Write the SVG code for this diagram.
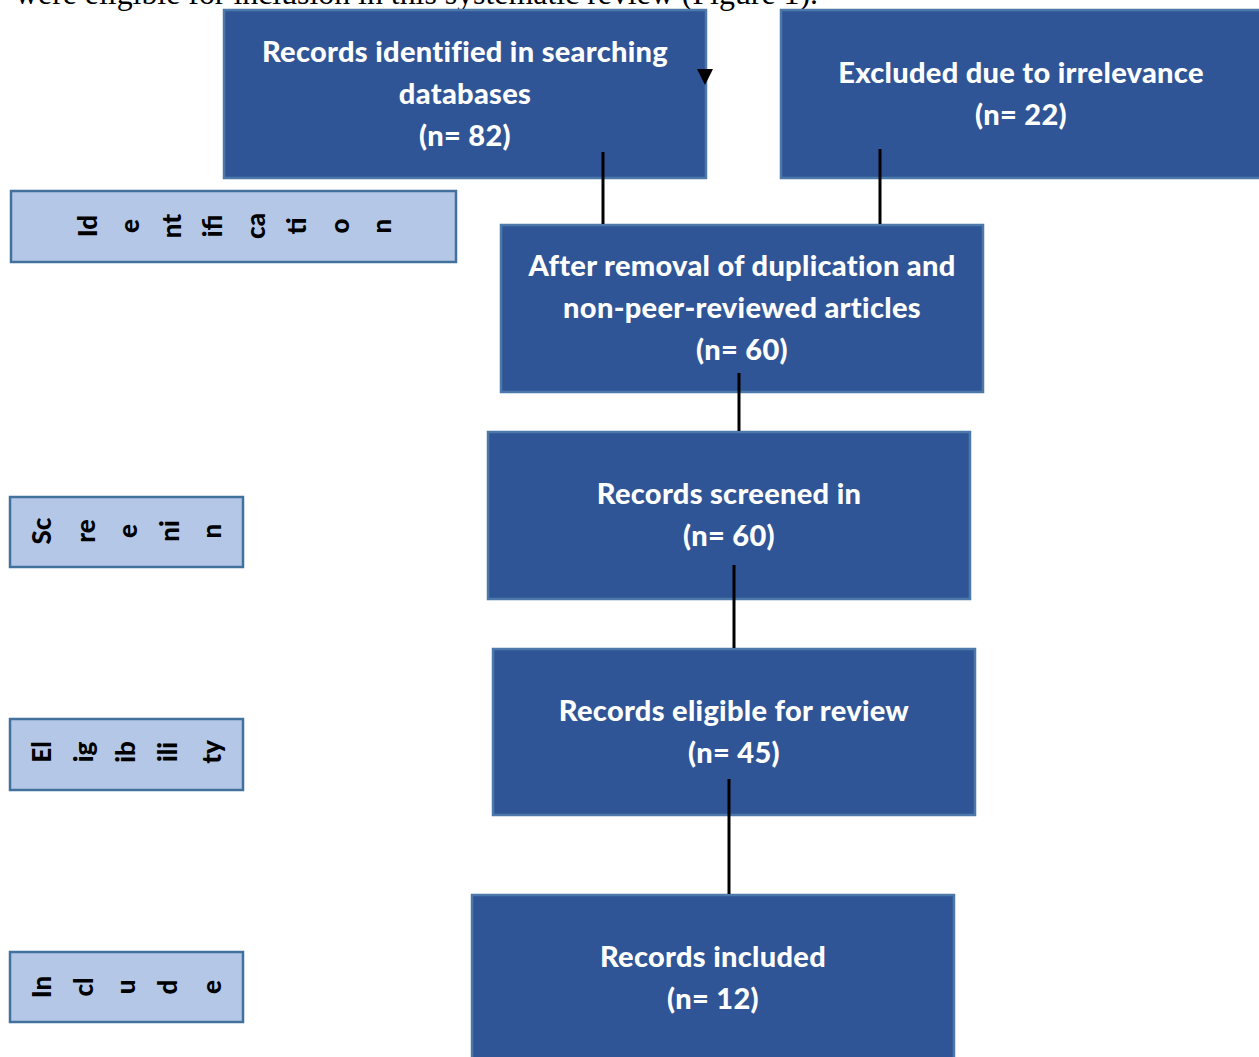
<svg xmlns="http://www.w3.org/2000/svg" width="1259" height="1057" viewBox="0 0 1259 1057">
<style>
.box{fill:#2F5597;stroke:#4D79AA;stroke-width:2.5}
.side{fill:#B4C7E7;stroke:#41719C;stroke-width:2.5}
.t{font-family:Lato,"Liberation Sans",sans-serif;font-weight:900;font-size:29px;letter-spacing:0.3px;fill:#FFFFFF;text-anchor:middle}
.s{font-family:Lato,"Liberation Sans",sans-serif;font-weight:900;font-size:26px;fill:#000000;text-anchor:middle}
.c{stroke:#000000;stroke-width:3;fill:none}
</style>
<rect width="1259" height="1057" fill="#FFFFFF"/>
<text x="15" y="4" font-family="'Liberation Serif',serif" font-size="31" textLength="803" lengthAdjust="spacingAndGlyphs" fill="#000000">were eligible for inclusion in this systematic review (Figure 1).</text>
<g id="side-identification">
<rect class="side" x="11" y="191" width="445" height="71"/>
<g class="s">
<text transform="translate(88,226) rotate(-90)" y="9">Id</text>
<text transform="translate(130,226) rotate(-90)" y="9">e</text>
<text transform="translate(172,226) rotate(-90)" y="9">nt</text>
<text transform="translate(213,226) rotate(-90)" y="9">ifi</text>
<text transform="translate(256,226) rotate(-90)" y="9">ca</text>
<text transform="translate(297,226) rotate(-90)" y="9">ti</text>
<text transform="translate(340,226) rotate(-90)" y="9">o</text>
<text transform="translate(382,226) rotate(-90)" y="9">n</text>
</g>
</g>
<g id="side-screening">
<rect class="side" x="10" y="497" width="233" height="70"/>
<g class="s">
<text transform="translate(42,531) rotate(-90)" y="9">Sc</text>
<text transform="translate(86,531) rotate(-90)" y="9">re</text>
<text transform="translate(128,531) rotate(-90)" y="9">e</text>
<text transform="translate(170,531) rotate(-90)" y="9">ni</text>
<text transform="translate(212,531) rotate(-90)" y="9">n</text>
</g>
</g>
<g id="side-eligibility">
<rect class="side" x="10" y="719" width="233" height="71"/>
<g class="s">
<text transform="translate(42,752) rotate(-90)" y="9">El</text>
<text transform="translate(84,752) rotate(-90)" y="9">ig</text>
<text transform="translate(126,752) rotate(-90)" y="9">ib</text>
<text transform="translate(168,752) rotate(-90)" y="9">ili</text>
<text transform="translate(212,752) rotate(-90)" y="9">ty</text>
</g>
</g>
<g id="side-included">
<rect class="side" x="10" y="952" width="233" height="70"/>
<g class="s">
<text transform="translate(42,987) rotate(-90)" y="9">In</text>
<text transform="translate(84,987) rotate(-90)" y="9">cl</text>
<text transform="translate(126,987) rotate(-90)" y="9">u</text>
<text transform="translate(168,987) rotate(-90)" y="9">d</text>
<text transform="translate(212,987) rotate(-90)" y="9">e</text>
</g>
</g>
<g id="node-identified">
<rect class="box" x="224" y="10" width="482" height="168"/>
<text class="t" x="465" y="62">Records identified in searching</text>
<text class="t" x="465" y="104">databases</text>
<text class="t" x="465" y="146">(n= 82)</text>
</g>
<g id="node-excluded">
<rect class="box" x="781" y="10" width="482" height="168"/>
<text class="t" x="1021" y="83">Excluded due to irrelevance</text>
<text class="t" x="1021" y="125">(n= 22)</text>
</g>
<g id="node-after-removal">
<rect class="box" x="501" y="225" width="482" height="167"/>
<text class="t" x="742" y="276">After removal of duplication and</text>
<text class="t" x="742" y="318">non-peer-reviewed articles</text>
<text class="t" x="742" y="360">(n= 60)</text>
</g>
<g id="node-screened">
<rect class="box" x="488" y="432" width="482" height="167"/>
<text class="t" x="729" y="504">Records screened in</text>
<text class="t" x="729" y="546">(n= 60)</text>
</g>
<g id="node-eligible">
<rect class="box" x="493" y="649" width="482" height="166"/>
<text class="t" x="734" y="721">Records eligible for review</text>
<text class="t" x="734" y="763">(n= 45)</text>
</g>
<g id="node-included">
<rect class="box" x="472" y="895" width="482" height="170"/>
<text class="t" x="713" y="967">Records included</text>
<text class="t" x="713" y="1009">(n= 12)</text>
</g>
<g id="connectors">
<line class="c" x1="603" y1="152" x2="603" y2="224"/>
<line class="c" x1="880" y1="149" x2="880" y2="224"/>
<line class="c" x1="739" y1="373" x2="739" y2="431"/>
<line class="c" x1="734" y1="565" x2="734" y2="648"/>
<line class="c" x1="729" y1="779" x2="729" y2="894"/>
<polygon points="697,69 713,69 705,85" fill="#000000"/>
</g>
</svg>
